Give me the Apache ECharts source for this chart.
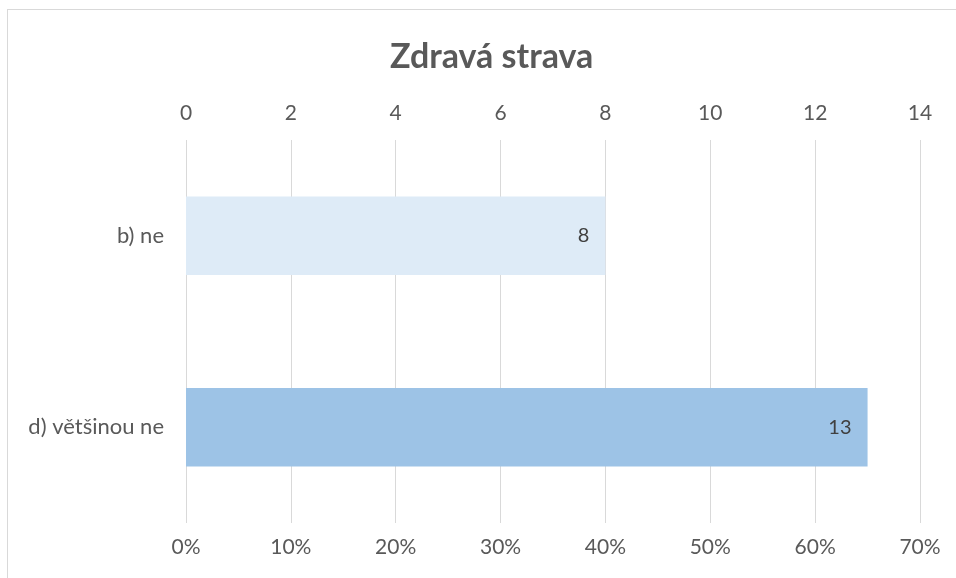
<!DOCTYPE html>
<html>
<head>
<meta charset="utf-8">
<script src="https://cdn.jsdelivr.net/npm/echarts@6/dist/echarts.min.js"></script>
<style>
    html, body { margin: 0; padding: 0; background: #fff; }
    #wrap { position: relative; width: 956px; height: 578px; overflow: hidden; }
    #frame {
        position: absolute; left: 7px; top: 9px; width: 960px; height: 600px;
        border-top: 1px solid #d9d9d9; border-left: 1px solid #d9d9d9;
    }
    #chart { position: absolute; left: 0; top: 0; width: 956px; height: 578px; }
</style>
</head>
<body>
<div id="wrap">
    <div id="frame"></div>
    <div id="chart"></div>
</div>
<script>
    var categories = ['b) ne', 'd) většinou ne'];
    var counts = [8, 13];
    var barColors = ['#deebf7', '#9dc3e6'];
    var countTicks = { min: 0, max: 14, interval: 2 };
    var percentTicks = { min: 0, max: 0.7, interval: 0.1 };

    var font = 'Lato, "Open Sans", sans-serif';
    var chart = echarts.init(document.getElementById('chart'));

    chart.setOption({
        backgroundColor: 'transparent',
        animation: false,
        title: {
            text: 'Zdravá strava',
            left: 385,
            top: 35,
            textStyle: { color: '#595959', fontSize: 34, fontWeight: 'bold', fontFamily: font }
        },
        grid: { left: 186, right: 36, top: 140, bottom: 55 },
        xAxis: [{
            type: 'value',
            position: 'top',
            min: countTicks.min,
            max: countTicks.max,
            interval: countTicks.interval,
            axisLine: { show: false },
            axisTick: { show: false },
            axisLabel: { color: '#595959', fontSize: 21, fontFamily: font, margin: 16 },
            splitLine: { show: true, lineStyle: { color: '#d9d9d9', width: 1 } }
        }, {
            type: 'value',
            position: 'bottom',
            min: percentTicks.min,
            max: percentTicks.max,
            interval: percentTicks.interval,
            axisLine: { show: false },
            axisTick: { show: false },
            splitLine: { show: false },
            axisLabel: {
                color: '#595959', fontSize: 21, fontFamily: font, margin: 14,
                formatter: function (v) { return Math.round(v * 100) + '%'; }
            }
        }],
        yAxis: {
            type: 'category',
            data: categories,
            inverse: true,
            axisLine: { show: false },
            axisTick: { show: false },
            axisLabel: { color: '#595959', fontSize: 22, fontFamily: font, margin: 22 }
        },
        series: [{
            type: 'bar',
            xAxisIndex: 0,
            barCategoryGap: '59%',
            data: counts.map(function (v, i) {
                return { value: v, itemStyle: { color: barColors[i] } };
            }),
            label: {
                show: true,
                position: 'insideRight',
                distance: 16,
                color: '#404040',
                fontSize: 20,
                fontFamily: font
            }
        }]
    });
</script>
</body>
</html>
